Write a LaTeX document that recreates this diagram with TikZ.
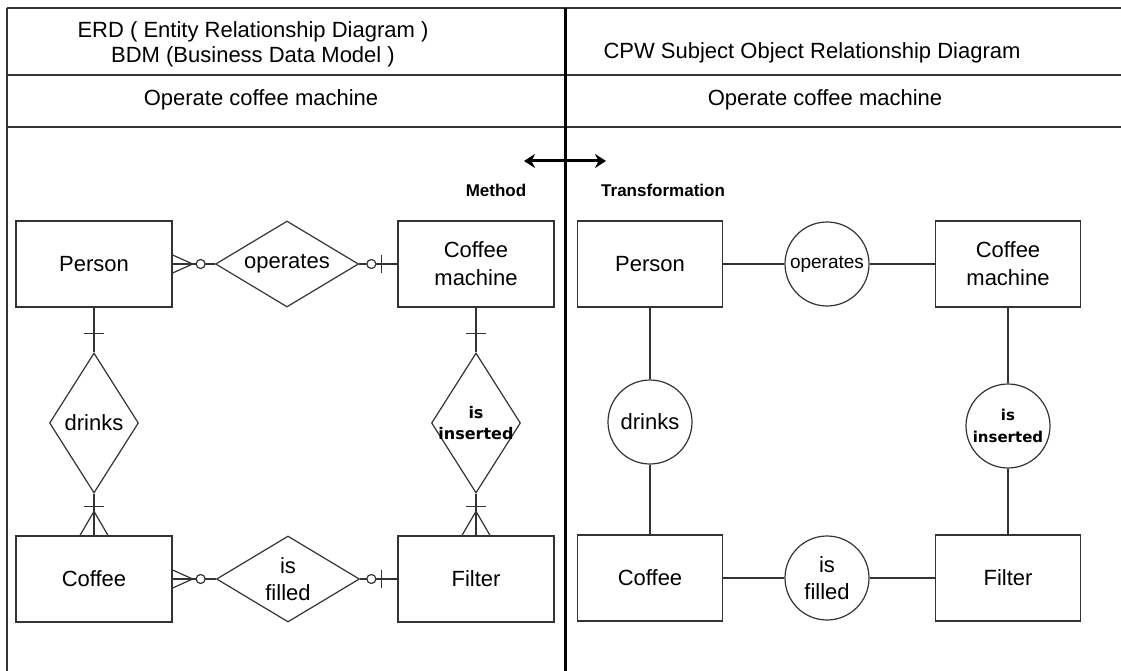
\documentclass[tikz,border=0pt]{standalone}
\usepackage{fontspec}
\setmainfont{Liberation Sans}
\newfontfamily\dejavufont{DejaVu Sans}
\usetikzlibrary{shapes.geometric, arrows.meta, positioning}

\tikzset{
  conn/.style={draw=black!80, line width=1.2pt},
  entity/.style={draw=black!80, line width=1.3pt, minimum width=156pt, minimum height=86pt, align=center, font=\fontsize{22}{28}\selectfont},
  sentity/.style={entity, minimum width=145pt},
  erel/.style={diamond, draw=black!80, line width=1.2pt, inner sep=0pt, minimum width=143pt, minimum height=86pt},
  erelv/.style={erel, minimum width=89pt, minimum height=140pt},
  rtext/.style={align=center, inner sep=0pt, font=\fontsize{22}{27}\selectfont},
  btext/.style={align=center, inner sep=0pt, font=\dejavufont\bfseries\fontsize{16}{21}\selectfont},
  rcirc/.style={circle, draw=black!80, line width=1.2pt, minimum size=84pt, inner sep=0pt, align=center, font=\fontsize{22}{27}\selectfont},
  head/.style={align=center, font=\fontsize{22}{25}\selectfont},
  tag/.style={inner sep=0pt, font=\bfseries\fontsize{17}{20}\selectfont}
}

\newcommand{\manyopt}[2]{ % #1: point on the entity border, #2: direction toward the relationship
  \begin{scope}[shift={(#1)}, rotate=#2]
    \draw[conn] (0,-9) -- (20,0) -- (0,9);
    \draw[conn, fill=white] (28,0) circle (4.5);
  \end{scope}
}
\newcommand{\oneopt}[2]{ % #1: point on the entity border, #2: direction toward the relationship
  \begin{scope}[shift={(#1)}, rotate=#2]
    \draw[conn] (16,-9) -- (16,9);
    \draw[conn, fill=white] (26,0) circle (4.5);
  \end{scope}
}
\newcommand{\onlyone}[2]{ % #1: point on the entity border, #2: direction toward the relationship
  \begin{scope}[shift={(#1)}, rotate=#2]
    \draw[conn] (26,-10) -- (26,10);
  \end{scope}
}
\newcommand{\onemany}[2]{ % #1: point on the entity border, #2: direction toward the relationship
  \begin{scope}[shift={(#1)}, rotate=#2]
    \draw[conn] (0,-14) -- (24,0) -- (0,14);
    \draw[conn] (29,-10) -- (29,10);
  \end{scope}
}

\begin{document}
\begin{tikzpicture}[x=1pt, y=-1pt]
\useasboundingbox (0,0) rectangle (1121,671);

% Frame and header rows
\draw[conn, line width=1.4pt] (7,8) -- (7,671);
\foreach \y in {8,75,127}
{
    \draw[conn, line width=1.4pt] (7,\y) -- (1121,\y);
}
\draw[line width=3pt] (565,8) -- (565,671);

\node[head] (lhead) at (253,44) {ERD ( Entity Relationship Diagram )\\BDM (Business Data Model )};
\node[head] (rhead) at (812,53) {CPW Subject Object Relationship Diagram};
\node[head] (ltitle) at (261,100) {Operate coffee machine};
\node[head] (rtitle) at (825,100) {Operate coffee machine};

% Method <-> Transformation
\coordinate (ml) at (524,161);
\coordinate (mr) at (606,161);
\draw[line width=3pt, {Stealth[length=11pt,width=14pt]}-{Stealth[length=11pt,width=14pt]}] (ml) -- (mr);
\node[tag] (method) at (496,190) {Method};
\node[tag, anchor=west] (transf) at (601,190) {Transformation};

% ERD entities
\node[entity] (person) at (94,264) {Person};
\node[entity] (cmach) at (476,264) {Coffee\\machine};
\node[entity] (coffee) at (94,579) {Coffee};
\node[entity] (filter) at (476,579) {Filter};

% ERD relationships
\node[erel, label={[rtext]center:operates}] (operates) at (287,264) {};
\node[erel, label={[rtext]center:is\\filled}] (filled) at (288,579) {};
\node[erelv, label={[rtext]center:drinks}] (drinks) at (94,423) {};
\node[erelv, label={[btext]center:is\\inserted}] (inserted) at (476,423) {};

\draw[conn] (person.east) -- (operates.west);
\draw[conn] (operates.east) -- (cmach.west);
\draw[conn] (coffee.east) -- (filled.west);
\draw[conn] (filled.east) -- (filter.west);
\draw[conn] (person.south) -- (drinks.north);
\draw[conn] (drinks.south) -- (coffee.north);
\draw[conn] (cmach.south) -- (inserted.north);
\draw[conn] (inserted.south) -- (filter.north);

% Cardinality marks
\manyopt{person.east}{0}
\oneopt{cmach.west}{180}
\manyopt{coffee.east}{0}
\oneopt{filter.west}{180}
\onlyone{person.south}{-90}
\onemany{coffee.north}{90}
\onlyone{cmach.south}{-90}
\onemany{filter.north}{90}

% CPW entities
\node[sentity] (sperson) at (650,264) {Person};
\node[sentity] (scmach) at (1008,264) {Coffee\\machine};
\node[sentity] (scoffee) at (650,578) {Coffee};
\node[sentity] (sfilter) at (1008,578) {Filter};

% CPW relationships
\node[rcirc, font=\fontsize{19}{23}\selectfont] (soperates) at (827,264) {operates};
\node[rcirc] (sdrinks) at (650,422) {drinks};
\node[rcirc, font=\dejavufont\bfseries\fontsize{15}{22}\selectfont] (sinserted) at (1008,426) {is\\inserted};
\node[rcirc] (sfilled) at (827,578) {is\\filled};

\draw[conn] (sperson) -- (soperates);
\draw[conn] (soperates) -- (scmach);
\draw[conn] (sperson) -- (sdrinks);
\draw[conn] (sdrinks) -- (scoffee);
\draw[conn] (scmach) -- (sinserted);
\draw[conn] (sinserted) -- (sfilter);
\draw[conn] (scoffee) -- (sfilled);
\draw[conn] (sfilled) -- (sfilter);

\end{tikzpicture}
\end{document}
